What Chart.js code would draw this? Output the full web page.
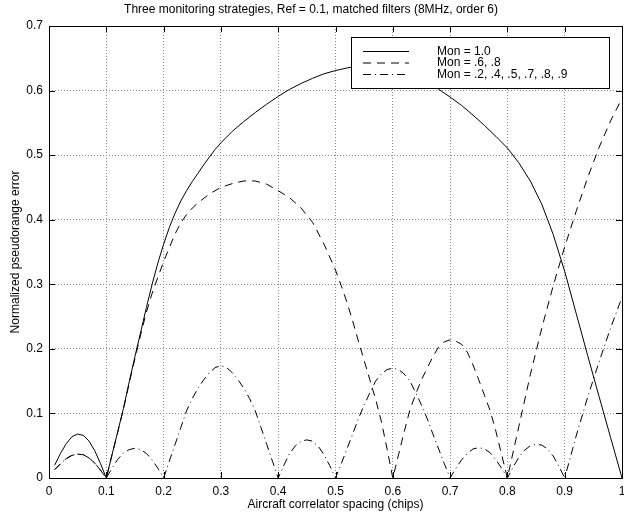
<!DOCTYPE html>
<html>
<head>
<meta charset="utf-8">
<script src="https://cdn.jsdelivr.net/npm/chart.js@4.4.1/dist/chart.umd.min.js"></script>
<style>
  html, body { margin: 0; padding: 0; background: #fff; }
  #chart { display: block; }
</style>
</head>
<body>
<canvas id="chart" width="624" height="516"></canvas>
<script>
// correlator spacing (chips) and normalized pseudorange error for each monitor set
const spacingMon10 = [0.01, 0.02, 0.03, 0.04, 0.05, 0.06, 0.07, 0.08, 0.09, 0.10,
    0.11, 0.12, 0.13, 0.14, 0.15, 0.16, 0.17, 0.18, 0.19, 0.20,
    0.21, 0.22, 0.23, 0.24, 0.25, 0.26, 0.27, 0.28, 0.29, 0.30,
    0.32, 0.34, 0.36, 0.38, 0.40, 0.42, 0.44, 0.46, 0.48, 0.50,
    0.52, 0.54, 0.56, 0.58, 0.60, 0.62, 0.64, 0.66, 0.68, 0.70,
    0.72, 0.74, 0.76, 0.78, 0.80, 0.82, 0.84, 0.86, 0.88, 0.90,
    0.92, 0.94, 0.96, 0.98, 1.00];
const errorMon10 = [0.020, 0.038, 0.053, 0.064, 0.068, 0.066, 0.057, 0.042, 0.022, 0,
    0.036, 0.072, 0.108, 0.149, 0.188, 0.226, 0.264, 0.300, 0.333, 0.362,
    0.388, 0.410, 0.429, 0.445, 0.459, 0.472, 0.485, 0.497, 0.509, 0.519,
    0.537, 0.552, 0.566, 0.579, 0.591, 0.602, 0.611, 0.619, 0.626, 0.631,
    0.635, 0.638, 0.639, 0.639, 0.636, 0.631, 0.624, 0.614, 0.602, 0.590,
    0.577, 0.562, 0.546, 0.529, 0.511, 0.488, 0.460, 0.424, 0.377, 0.320,
    0.255, 0.190, 0.126, 0.063, 0];

const spacingMon68 = [0.01, 0.02, 0.03, 0.04, 0.05, 0.06, 0.07, 0.08, 0.09, 0.10,
    0.11, 0.12, 0.13, 0.14, 0.15, 0.16, 0.17, 0.18, 0.19, 0.20,
    0.21, 0.22, 0.23, 0.24, 0.25, 0.26, 0.28, 0.30, 0.32, 0.34,
    0.36, 0.38, 0.40, 0.42, 0.44, 0.46, 0.48, 0.50, 0.51, 0.52,
    0.53, 0.54, 0.55, 0.56, 0.57, 0.58, 0.59, 0.60, 0.61, 0.62,
    0.63, 0.64, 0.65, 0.66, 0.67, 0.68, 0.69, 0.70, 0.71, 0.72,
    0.73, 0.74, 0.75, 0.76, 0.77, 0.78, 0.79, 0.80, 0.82, 0.84,
    0.86, 0.88, 0.90, 0.92, 0.94, 0.96, 0.98, 1.00];
const errorMon68 = [0.013, 0.022, 0.030, 0.035, 0.037, 0.036, 0.031, 0.023, 0.012, 0,
    0.036, 0.071, 0.107, 0.147, 0.185, 0.222, 0.257, 0.286, 0.311, 0.335,
    0.357, 0.378, 0.395, 0.408, 0.418, 0.426, 0.440, 0.450, 0.456, 0.460,
    0.460, 0.455, 0.445, 0.434, 0.418, 0.396, 0.362, 0.322, 0.298, 0.272,
    0.243, 0.212, 0.182, 0.152, 0.122, 0.088, 0.045, 0, 0.036, 0.072,
    0.106, 0.130, 0.152, 0.170, 0.188, 0.203, 0.211, 0.214, 0.212, 0.207,
    0.195, 0.175, 0.152, 0.128, 0.104, 0.072, 0.036, 0, 0.080, 0.160,
    0.232, 0.298, 0.358, 0.413, 0.465, 0.512, 0.553, 0.588];

const spacingMonAll = [0.01, 0.02, 0.03, 0.04, 0.05, 0.06, 0.07, 0.08, 0.09, 0.10,
    0.11, 0.12, 0.13, 0.14, 0.15, 0.16, 0.17, 0.18, 0.19, 0.20,
    0.21, 0.22, 0.23, 0.24, 0.25, 0.26, 0.27, 0.28, 0.29, 0.30,
    0.31, 0.32, 0.33, 0.34, 0.35, 0.36, 0.37, 0.38, 0.39, 0.40,
    0.41, 0.42, 0.43, 0.44, 0.45, 0.46, 0.47, 0.48, 0.49, 0.50,
    0.51, 0.52, 0.53, 0.54, 0.55, 0.56, 0.57, 0.58, 0.59, 0.60,
    0.61, 0.62, 0.63, 0.64, 0.65, 0.66, 0.67, 0.68, 0.69, 0.70,
    0.71, 0.72, 0.73, 0.74, 0.75, 0.76, 0.77, 0.78, 0.79, 0.80,
    0.81, 0.82, 0.83, 0.84, 0.85, 0.86, 0.87, 0.88, 0.89, 0.90,
    0.92, 0.94, 0.96, 0.98, 1.00];
const errorMonAll = [0.013, 0.022, 0.030, 0.035, 0.037, 0.036, 0.031, 0.023, 0.012, 0,
    0.015, 0.029, 0.039, 0.044, 0.046, 0.044, 0.038, 0.028, 0.015, 0,
    0.026, 0.052, 0.078, 0.104, 0.123, 0.139, 0.152, 0.163, 0.171, 0.174,
    0.171, 0.163, 0.152, 0.139, 0.123, 0.104, 0.078, 0.052, 0.026, 0,
    0.020, 0.038, 0.050, 0.057, 0.059, 0.057, 0.049, 0.036, 0.019, 0,
    0.022, 0.045, 0.068, 0.092, 0.113, 0.132, 0.150, 0.161, 0.168, 0.170,
    0.168, 0.161, 0.150, 0.132, 0.113, 0.092, 0.068, 0.045, 0.022, 0,
    0.015, 0.028, 0.038, 0.045, 0.047, 0.045, 0.039, 0.028, 0.015, 0,
    0.017, 0.032, 0.043, 0.050, 0.052, 0.051, 0.045, 0.034, 0.018, 0,
    0.065, 0.125, 0.180, 0.232, 0.280];

const xTickValues = [0, 0.1, 0.2, 0.3, 0.4, 0.5, 0.6, 0.7, 0.8, 0.9, 1];
const xTickLabels = ['0', '0.1', '0.2', '0.3', '0.4', '0.5', '0.6', '0.7', '0.8', '0.9', '1'];
const yTickValues = [0, 0.1, 0.2, 0.3, 0.4, 0.5, 0.6, 0.7];
const yTickLabels = ['0', '0.1', '0.2', '0.3', '0.4', '0.5', '0.6', '0.7'];

function toPoints(xs, ys) {
    return xs.map(function (x, i) { return { x: x, y: ys[i] }; });
}

Chart.defaults.font.family = "'Liberation Sans', Arial, sans-serif";
Chart.defaults.font.size = 12;
Chart.defaults.color = '#000';

// closed box around the plot with short inward ticks on every side
const axesFrame = {
    id: 'axesFrame',
    afterDatasetsDraw: function (chart) {
        const ctx = chart.ctx;
        const a = chart.chartArea;
        const xs = chart.scales.x, ys = chart.scales.y;
        const len = 6;
        ctx.save();
        ctx.strokeStyle = '#000';
        ctx.lineWidth = 1;
        ctx.beginPath();
        xTickValues.forEach(function (v) {
            const px = Math.round(xs.getPixelForValue(v)) + 0.5;
            ctx.moveTo(px, a.bottom); ctx.lineTo(px, a.bottom - len);
            ctx.moveTo(px, a.top); ctx.lineTo(px, a.top + len);
        });
        yTickValues.forEach(function (v) {
            const py = Math.round(ys.getPixelForValue(v)) + 0.5;
            ctx.moveTo(a.left, py); ctx.lineTo(a.left + len, py);
            ctx.moveTo(a.right, py); ctx.lineTo(a.right - len, py);
        });
        ctx.stroke();
        ctx.strokeRect(a.left + 0.5, a.top + 0.5, a.right - a.left, a.bottom - a.top);
        ctx.restore();
    }
};

// boxed legend in the upper right corner of the plot
const boxLegend = {
    id: 'boxLegend',
    afterDraw: function (chart) {
        const ctx = chart.ctx;
        const a = chart.chartArea;
        const left = a.right - 271, top = a.top + 11;
        const w = 258, h = 51;
        ctx.save();
        ctx.fillStyle = '#fff';
        ctx.fillRect(left, top, w, h);
        ctx.strokeStyle = '#000';
        ctx.lineWidth = 1;
        ctx.strokeRect(left + 0.5, top + 0.5, w, h);
        ctx.font = "12px 'Liberation Sans', Arial, sans-serif";
        ctx.fillStyle = '#000';
        ctx.textAlign = 'left';
        ctx.textBaseline = 'middle';
        chart.data.datasets.forEach(function (ds, i) {
            const y = top + 14.5 + i * 11.5;
            ctx.setLineDash(ds.borderDash || []);
            ctx.beginPath();
            ctx.moveTo(left + 12, y);
            ctx.lineTo(left + 58, y);
            ctx.stroke();
            ctx.setLineDash([]);
            ctx.fillText(ds.label, left + 86, y);
        });
        ctx.restore();
    }
};

const ctx = document.getElementById('chart').getContext('2d');

new Chart(ctx, {
    type: 'scatter',
    data: {
        datasets: [{
            label: 'Mon = 1.0',
            data: toPoints(spacingMon10, errorMon10),
            borderColor: '#000',
            borderDash: []
        }, {
            label: 'Mon = .6, .8',
            data: toPoints(spacingMon68, errorMon68),
            borderColor: '#000',
            borderDash: [8, 6]
        }, {
            label: 'Mon = .2, .4, .5, .7, .8, .9',
            data: toPoints(spacingMonAll, errorMonAll),
            borderColor: '#000',
            borderDash: [8, 4, 1, 4]
        }]
    },
    options: {
        responsive: false,
        animation: false,
        devicePixelRatio: 1,
        datasets: {
            scatter: {
                showLine: true,
                borderWidth: 1,
                pointRadius: 0,
                tension: 0,
                fill: false
            }
        },
        layout: { padding: { left: 0, right: 2, top: 0, bottom: 0 } },
        plugins: {
            colors: { enabled: false },
            legend: { display: false },
            tooltip: { enabled: false },
            title: {
                display: true,
                text: 'Three monitoring strategies, Ref = 0.1, matched filters (8MHz, order 6)',
                color: '#000',
                font: { size: 12, weight: 'normal' },
                padding: { top: 2, bottom: 9.6 }
            }
        },
        scales: {
            x: {
                type: 'linear',
                min: 0,
                max: 1,
                afterBuildTicks: function (scale) {
                    scale.ticks = xTickValues.map(function (v) { return { value: v }; });
                },
                afterFit: function (scale) {
                    scale.height = 38;
                    scale.paddingLeft = 0;
                    scale.paddingRight = 0;
                },
                ticks: {
                    padding: 6,
                    maxRotation: 0,
                    autoSkip: false,
                    callback: function (value, index) { return xTickLabels[index]; }
                },
                grid: { color: '#8a8a8a', lineWidth: 1, drawTicks: false },
                border: { display: false, dash: [1, 2] },
                title: {
                    display: true,
                    text: 'Aircraft correlator spacing (chips)',
                    padding: { top: 0, bottom: 4 }
                }
            },
            y: {
                type: 'linear',
                min: 0,
                max: 0.7,
                afterBuildTicks: function (scale) {
                    scale.ticks = yTickValues.map(function (v) { return { value: v }; });
                },
                afterFit: function (scale) {
                    scale.width = 49;
                    scale.paddingTop = 0;
                    scale.paddingBottom = 0;
                },
                ticks: {
                    padding: 6,
                    autoSkip: false,
                    callback: function (value, index) { return yTickLabels[index]; }
                },
                grid: { color: '#8a8a8a', lineWidth: 1, drawTicks: false },
                border: { display: false, dash: [1, 2] },
                title: {
                    display: true,
                    text: 'Normalized pseudorange error',
                    padding: { top: 8, bottom: 0 }
                }
            }
        }
    },
    plugins: [axesFrame, boxLegend]
});
</script>
</body>
</html>
